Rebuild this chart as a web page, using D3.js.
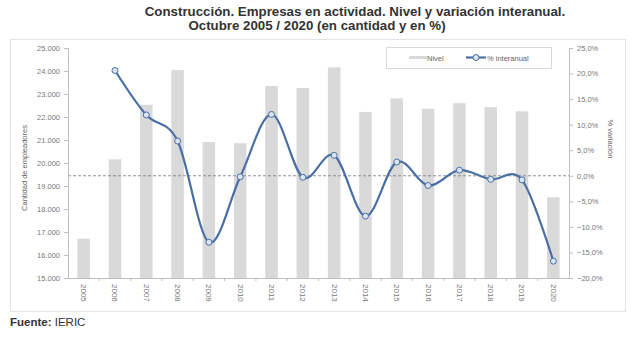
<!DOCTYPE html>
<html><head><meta charset="utf-8">
<script src="https://cdn.jsdelivr.net/npm/d3@7"></script>
<style>body{margin:0;background:#fff;font-family:"Liberation Sans",Arial,sans-serif}</style>
</head><body><svg id="c" width="640" height="338"></svg>
<script>
const years = ["2005","2006","2007","2008","2009","2010","2011","2012","2013","2014","2015","2016","2017","2018","2019","2020"];
const nivel = [16710,20160,22530,24040,20910,20860,23350,23260,24160,22220,22810,22360,22600,22430,22250,18510];
const interanual = [null,20.6,11.9,6.8,-13.0,-0.2,12.0,-0.3,4.0,-7.9,2.7,-1.9,1.1,-0.7,-0.8,-16.7];
const leftTicks = [15000,16000,17000,18000,19000,20000,21000,22000,23000,24000,25000];
const rightTicks = [-20,-15,-10,-5,0,5,10,15,20,25];

const svg = d3.select("#c");
const L = 68, R = 569, T = 48, B = 278;
const x = d3.scaleBand().domain(years).range([L, R]).paddingInner(0.6).paddingOuter(0.3);
const xb = d3.scaleBand().domain(years).range([L, R]);
const yL = d3.scaleLinear().domain([15000, 25000]).range([B, T]);
const yR = d3.scaleLinear().domain([-20, 25]).range([B, T]);
const fmtL = d3.formatLocale({decimal: ",", thousands: ".", grouping: [3]}).format(",.0f");
const fmtR = v => d3.format(".1f")(v).replace(".", ",") + "%";

// frame
svg.append("rect").attr("x", 10.5).attr("y", 39.5).attr("width", 615).attr("height", 272)
  .attr("fill", "none").attr("stroke", "#e3e3e3");

// titles
svg.append("text").attr("x", 355).attr("y", 16).attr("text-anchor", "middle")
  .attr("font-size", 13.3).attr("font-weight", "bold").attr("fill", "#333")
  .text("Construcción. Empresas en actividad. Nivel y variación interanual.");
svg.append("text").attr("x", 317).attr("y", 30).attr("text-anchor", "middle")
  .attr("font-size", 13.3).attr("font-weight", "bold").attr("fill", "#333")
  .text("Octubre 2005 / 2020 (en cantidad y en %)");

// bars
svg.append("g").selectAll("rect").data(years).join("rect")
  .attr("x", d => x(d)).attr("width", x.bandwidth())
  .attr("y", (d, i) => yL(nivel[i])).attr("height", (d, i) => B - yL(nivel[i]))
  .attr("fill", "#d9d9d9");

// zero dashed line
svg.append("line").attr("x1", L).attr("x2", R).attr("y1", yR(0)).attr("y2", yR(0))
  .attr("stroke", "#777").attr("stroke-width", 0.8).attr("stroke-dasharray", "3,2");

// axes
const axL = svg.append("g").attr("transform", `translate(${L},0)`)
  .call(d3.axisLeft(yL).tickValues(leftTicks).tickFormat(fmtL).tickSize(4).tickPadding(4));
const axR = svg.append("g").attr("transform", `translate(${R},0)`)
  .call(d3.axisRight(yR).tickValues(rightTicks).tickFormat(fmtR).tickSize(4).tickPadding(4));
const axB = svg.append("g").attr("transform", `translate(0,${B})`)
  .call(d3.axisBottom(xb).tickSize(0).tickPadding(6));
[axL, axR, axB].forEach(a => {
  a.selectAll("path,line").attr("stroke", "#bfbfbf");
  a.selectAll("text").attr("fill", "#777").attr("font-size", 7.5).attr("font-family", "Liberation Sans, Arial, sans-serif");
});
axB.selectAll(".tick text").attr("transform", "rotate(90)").attr("text-anchor", "start")
  .attr("x", 6).attr("y", 0).attr("dy", "0.32em").attr("font-size", 8);
// category boundary ticks
svg.append("g").selectAll("line").data(years.slice(1)).join("line")
  .attr("x1", d => xb(d)).attr("x2", d => xb(d)).attr("y1", B).attr("y2", B + 3)
  .attr("stroke", "#bfbfbf");

// axis titles
svg.append("text").attr("transform", "translate(27,168) rotate(-90)").attr("text-anchor", "middle")
  .attr("font-size", 7.5).attr("fill", "#666").text("Cantidad de empleadores");
svg.append("text").attr("transform", "translate(608,139) rotate(90)").attr("text-anchor", "middle")
  .attr("font-size", 7.5).attr("fill", "#666").text("% variación");

// line
const pts = years.map((d, i) => [xb(d) + xb.bandwidth() / 2, interanual[i]]).filter(p => p[1] !== null);
const line = d3.line().x(p => p[0]).y(p => yR(p[1])).curve(d3.curveCardinal.tension(0));
svg.append("path").attr("d", line(pts)).attr("fill", "none").attr("stroke", "#4a6fa5").attr("stroke-width", 2.2);
svg.append("g").selectAll("circle").data(pts).join("circle")
  .attr("cx", p => p[0]).attr("cy", p => yR(p[1])).attr("r", 3)
  .attr("fill", "#dbe5f1").attr("stroke", "#4a6fa5").attr("stroke-width", 1);

// legend
svg.append("rect").attr("x", 386.5).attr("y", 47.5).attr("width", 165).attr("height", 21)
  .attr("fill", "#fff").attr("stroke", "#d9d9d9");
svg.append("rect").attr("x", 409).attr("y", 56).attr("width", 18).attr("height", 3).attr("fill", "#d9d9d9");
svg.append("text").attr("x", 427).attr("y", 60.5).attr("font-size", 7.5).attr("fill", "#666").text("Nivel");
svg.append("line").attr("x1", 466).attr("x2", 486).attr("y1", 57.5).attr("y2", 57.5).attr("stroke", "#4a6fa5").attr("stroke-width", 2.2);
svg.append("circle").attr("cx", 476).attr("cy", 57.5).attr("r", 3).attr("fill", "#dbe5f1").attr("stroke", "#4a6fa5");
svg.append("text").attr("x", 487).attr("y", 60.5).attr("font-size", 7.5).attr("fill", "#666").text("% interanual");

// source
const src = svg.append("text").attr("x", 10).attr("y", 326).attr("font-size", 11.5).attr("fill", "#333");
src.append("tspan").attr("font-weight", "bold").text("Fuente: ");
src.append("tspan").text("IERIC");
</script></body></html>
